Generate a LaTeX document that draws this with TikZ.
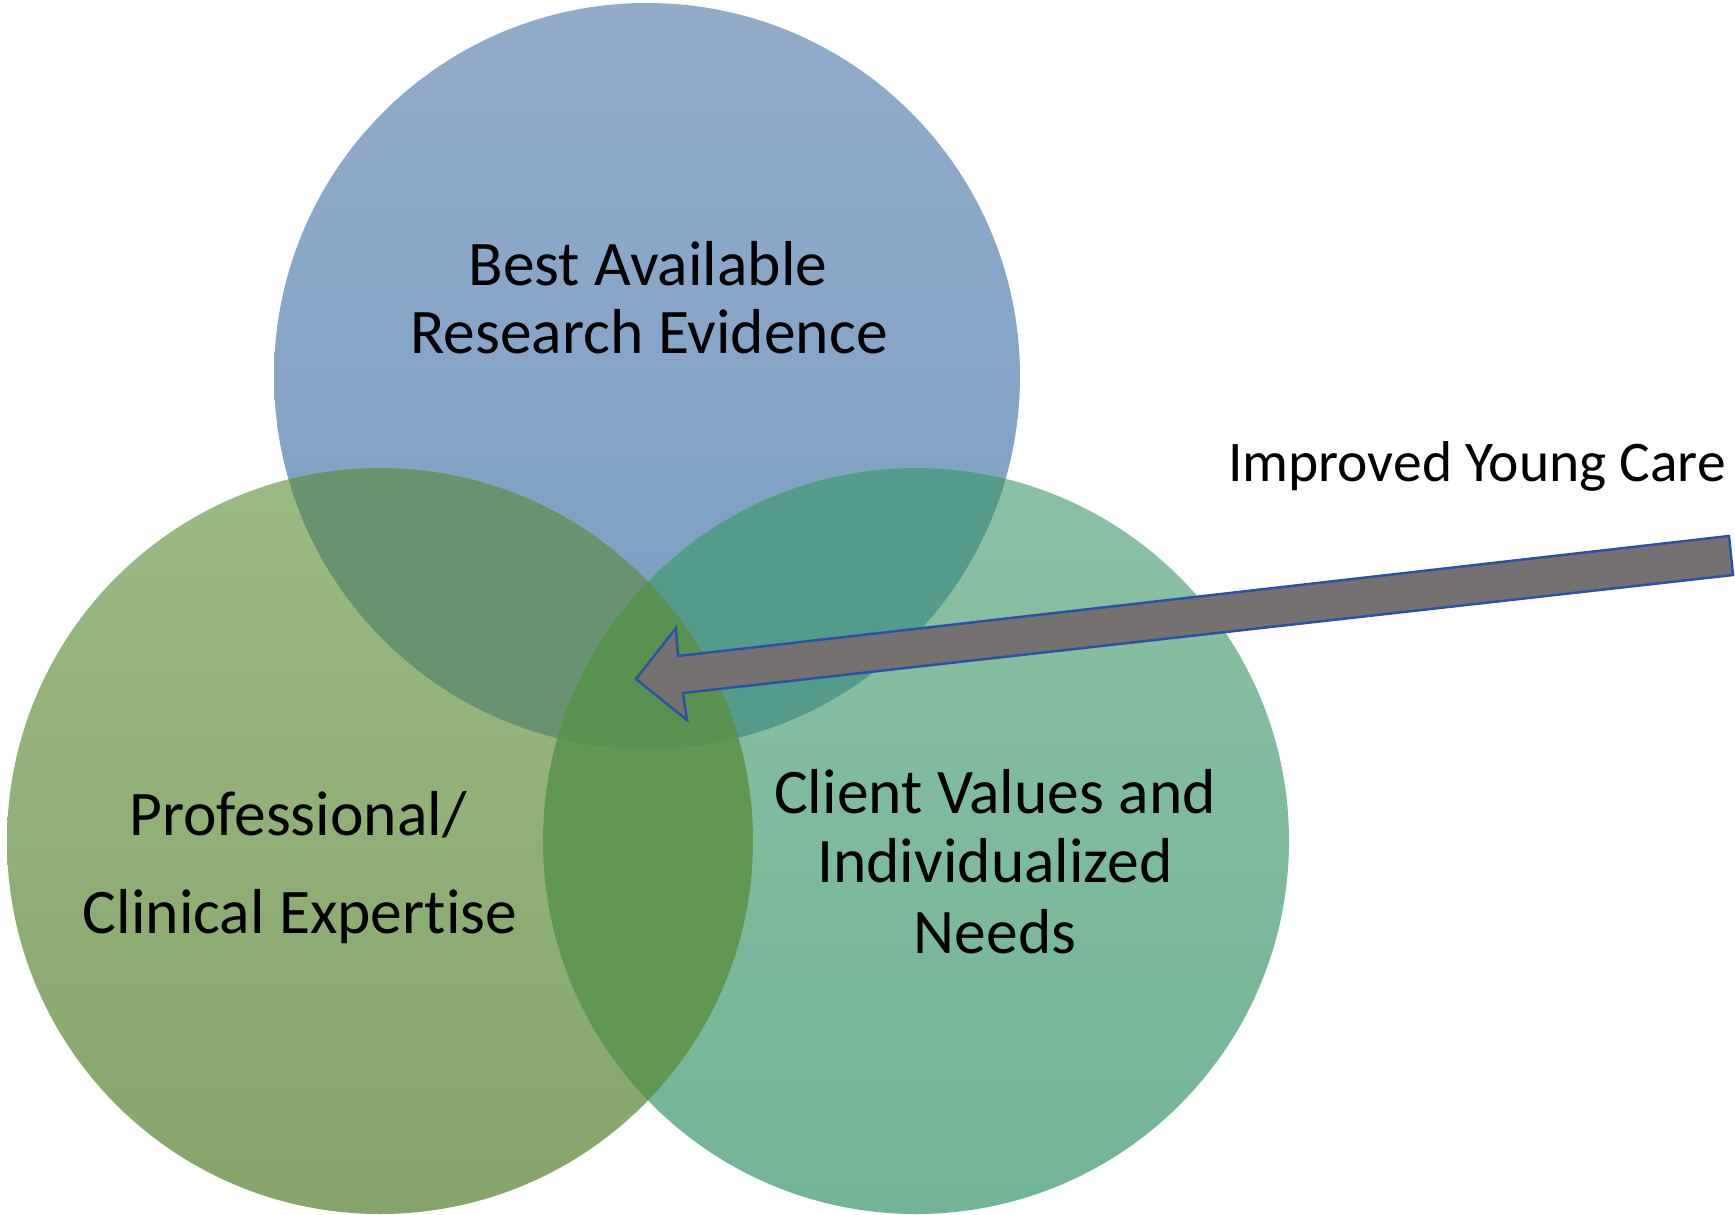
\documentclass[tikz,border=0pt]{standalone}
\usepackage{fontspec}
\setmainfont{Carlito}[Ligatures=NoCommon]
\definecolor{topA}{RGB}{146,171,201}
\definecolor{topB}{RGB}{122,158,195}
\definecolor{leftA}{RGB}{155,186,132}
\definecolor{leftB}{RGB}{134,165,108}
\definecolor{rightA}{RGB}{140,192,165}
\definecolor{rightB}{RGB}{114,180,149}
\definecolor{tlC}{RGB}{107,146,112}
\definecolor{trC}{RGB}{85,155,140}
\definecolor{lrC}{RGB}{97,151,82}
\definecolor{allC}{RGB}{89,145,80}
\definecolor{arrowfill}{RGB}{118,113,113}
\definecolor{arrowline}{RGB}{47,82,160}
\begin{document}
\begin{tikzpicture}[x=1pt,y=-1pt,
  lbl/.style={anchor=base,inner sep=0pt,font=\fontsize{63.5}{70}\selectfont}]
\useasboundingbox (0,0) rectangle (1735,1215);
\fill[white] (0,0) rectangle (1735,1215);
\coordinate (T) at (647,376);
\coordinate (L) at (380,841);
\coordinate (R) at (916,841);
% circles
\shade[top color=topA,bottom color=topB] (T) circle[radius=373pt];
\shade[top color=leftA,bottom color=leftB] (L) circle[radius=373pt];
\shade[top color=rightA,bottom color=rightB] (R) circle[radius=373pt];
% overlaps
\begin{scope}
  \clip (T) circle[radius=373pt];
  \fill[tlC] (L) circle[radius=373pt];
  \fill[trC] (R) circle[radius=373pt];
\end{scope}
\begin{scope}
  \clip (L) circle[radius=373pt];
  \fill[lrC] (R) circle[radius=373pt];
\end{scope}
\begin{scope}
  \clip (T) circle[radius=373pt];
  \clip (L) circle[radius=373pt];
  \fill[allC] (R) circle[radius=373pt];
\end{scope}
% labels
\foreach \x/\y/\t/\n in {648/285/Best Available/t1, 649/353/Research Evidence/t2,
  298/835/Professional\slash/l1, 300/933/Clinical Expertise/l2,
  995/813/Client Values and/r1, 995/882/Individualized/r2, 995/953/Needs/r3}{
  \node[lbl] (\n) at (\x,\y) {\t};
}
\node[lbl,anchor=base east,font=\fontsize{57.5}{65}\selectfont] (care) at (1726,481) {Improved Young Care};
% arrow
\coordinate (tip) at (636,679);
\coordinate (hu) at (676,628);
\coordinate (su) at (678,656);
\coordinate (eu) at (1729,536);
\coordinate (el) at (1733,575);
\coordinate (sl) at (683,693);
\coordinate (hl) at (687,720);
\draw[fill=arrowfill,draw=arrowline,line width=2.5pt,line join=miter]
  (tip) -- (hu) -- (su) -- (eu) -- (el) -- (sl) -- (hl) -- cycle;
\end{tikzpicture}
\end{document}
